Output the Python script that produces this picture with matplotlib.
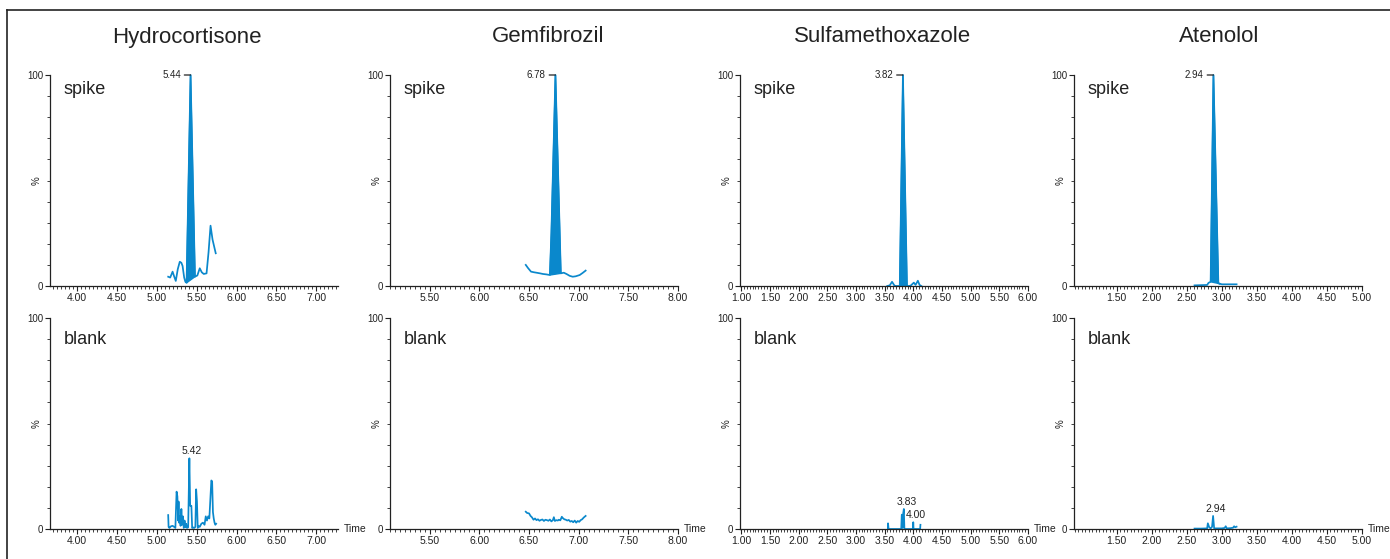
import numpy as np
import matplotlib.pyplot as plt
from matplotlib.lines import Line2D
from matplotlib.ticker import MultipleLocator, FixedLocator

plt.rcParams['font.family'] = ['Liberation Sans', 'DejaVu Sans']

BLUE = '#0a88cc'
INK = '#222222'

compounds = ["Hydrocortisone", "Gemfibrozil", "Sulfamethoxazole", "Atenolol"]
row_names = ["spike", "blank"]

# x axis ranges and labelled ticks
x_ranges = [(3.666, 7.27), (5.10, 8.00), (0.98, 6.00), (0.89, 5.00)]
x_ticks = [
    [4.0, 4.5, 5.0, 5.5, 6.0, 6.5, 7.0],
    [5.5, 6.0, 6.5, 7.0, 7.5, 8.0],
    [1.0, 1.5, 2.0, 2.5, 3.0, 3.5, 4.0, 4.5, 5.0, 5.5, 6.0],
    [1.5, 2.0, 2.5, 3.0, 3.5, 4.0, 4.5, 5.0],
]

# Hydrocortisone
hydro_spike_t = [5.145, 5.17, 5.20, 5.22, 5.24, 5.265, 5.29, 5.31, 5.325, 5.345, 5.36,
                 5.375, 5.425, 5.48, 5.51, 5.54, 5.565, 5.59, 5.625, 5.65, 5.675, 5.70, 5.74]
hydro_spike_v = [4.4, 4.0, 6.8, 4.5, 2.4, 8.0, 11.5, 11.0, 9.5, 4.0, 2.0,
                 1.5, 100, 4.4, 5.0, 8.4, 6.5, 5.7, 6.0, 16.0, 28.6, 22.0, 15.5]
hydro_blank_t = [5.145, 5.15, 5.16, 5.18, 5.20, 5.22, 5.235, 5.25, 5.26, 5.27, 5.275, 5.28,
                 5.29, 5.30, 5.31, 5.32, 5.33, 5.34, 5.35, 5.36, 5.37, 5.38, 5.395, 5.41,
                 5.42, 5.435, 5.445, 5.455, 5.47, 5.485, 5.495, 5.505, 5.515, 5.525, 5.54,
                 5.56, 5.58, 5.60, 5.615, 5.63, 5.645, 5.66, 5.685, 5.695, 5.705, 5.715,
                 5.725, 5.735, 5.745]
hydro_blank_v = [6.6, 1.0, 0.5, 1.3, 1.5, 1.0, 0.5, 17.7, 15.5, 4.0, 13.0, 3.0,
                 6.0, 1.5, 9.5, 2.0, 6.0, 0.5, 4.0, 0.8, 2.5, 0.5, 0.8, 33.5,
                 11.0, 11.0, 0.5, 0.8, 0.5, 1.0, 18.8, 13.0, 0.5, 1.5, 1.0,
                 2.5, 3.0, 2.0, 6.0, 4.0, 6.0, 5.0, 23.0, 22.5, 8.0, 5.0,
                 3.0, 2.0, 2.5]

# Gemfibrozil
gem_spike_t = [6.467, 6.49, 6.52, 6.55, 6.575, 6.61, 6.64, 6.675, 6.71, 6.725, 6.766,
               6.82, 6.85, 6.877, 6.91, 6.94, 6.97, 7.01, 7.04, 7.07]
gem_spike_v = [10.0, 8.5, 6.8, 6.5, 6.3, 6.0, 5.7, 5.5, 5.2, 25.0, 100,
               6.0, 6.3, 5.7, 4.8, 4.4, 4.6, 5.2, 6.2, 7.3]
gem_blank_t = [6.467, 6.48, 6.50, 6.515, 6.53, 6.545, 6.56, 6.575, 6.59, 6.605, 6.62,
               6.635, 6.65, 6.665, 6.68, 6.695, 6.71, 6.725, 6.74, 6.75, 6.76, 6.775,
               6.79, 6.80, 6.815, 6.83, 6.84, 6.855, 6.87, 6.885, 6.90, 6.915, 6.93,
               6.945, 6.96, 6.975, 6.99, 7.005, 7.02, 7.035, 7.05, 7.07]
gem_blank_v = [8.2, 7.6, 7.4, 6.2, 5.5, 4.4, 5.0, 4.2, 4.6, 3.9, 4.3,
               4.5, 3.8, 4.4, 4.2, 3.9, 4.5, 3.6, 4.2, 5.6, 3.8, 4.2,
               4.0, 4.4, 4.1, 5.8, 5.2, 4.6, 4.4, 4.0, 4.3, 3.5, 3.8,
               3.2, 4.0, 3.0, 3.8, 3.4, 4.2, 4.6, 5.4, 6.2]

# Sulfamethoxazole
sulfa_spike_t = [3.547, 3.59, 3.63, 3.67, 3.69, 3.765, 3.82, 3.89, 3.93, 3.96, 4.01,
                 4.04, 4.08, 4.11, 4.14]
sulfa_spike_v = [0.0, 0.3, 2.0, 0.3, 0.0, 0.0, 100, 0.0, 0.0, 0.3, 1.6,
                 0.5, 2.5, 0.5, 0.0]
sulfa_blank_t = [3.56, 3.56, 3.57, 3.79, 3.80, 3.81, 3.815, 3.825, 3.836, 3.845, 3.85,
                 3.995, 4.00, 4.005, 4.12, 4.125]
sulfa_blank_v = [0.0, 2.7, 0.0, 0.0, 6.8, 6.5, 0.5, 7.5, 9.5, 0.5, 0.0,
                 0.0, 3.2, 0.0, 0.0, 2.0]

# Atenolol
aten_spike_t = [2.61, 2.70, 2.79, 2.81, 2.84, 2.88, 2.95, 2.98, 3.00, 3.10, 3.21]
aten_spike_v = [0.3, 0.4, 0.5, 1.5, 2.0, 100, 1.3, 1.0, 0.8, 0.8, 0.8]
aten_blank_t = [2.61, 2.70, 2.79, 2.80, 2.82, 2.84, 2.86, 2.875, 2.89, 2.92, 3.00,
                3.04, 3.055, 3.07, 3.12, 3.16, 3.175, 3.19, 3.21]
aten_blank_v = [0.2, 0.2, 0.3, 2.7, 0.8, 0.3, 1.0, 6.2, 0.3, 0.3, 0.3,
                0.5, 1.3, 0.3, 0.4, 0.6, 1.3, 0.8, 1.1]

spike_traces = [(hydro_spike_t, hydro_spike_v), (gem_spike_t, gem_spike_v),
                (sulfa_spike_t, sulfa_spike_v), (aten_spike_t, aten_spike_v)]
blank_traces = [(hydro_blank_t, hydro_blank_v), (gem_blank_t, gem_blank_v),
                (sulfa_blank_t, sulfa_blank_v), (aten_blank_t, aten_blank_v)]

# solid filled main peak in the spike runs (start, end retention time)
spike_fill = [(5.375, 5.48), (6.71, 6.82), (3.765, 3.89), (2.84, 2.98)]

# peak labels: (label, rt, intensity)
spike_labels = [("5.44", 5.425, 100), ("6.78", 6.766, 100), ("3.82", 3.82, 100), ("2.94", 2.88, 100)]
blank_labels = [[("5.42", 5.41, 33.5)], [], [("3.83", 3.836, 9.5), ("4.00", 4.00, 3.2)],
                [("2.94", 2.875, 6.2)]]

W, H = 1390, 559
fig = plt.figure(figsize=(W / 100, H / 100), dpi=100)

lefts = [50, 390, 740, 1074]
title_x = [187, 548, 883, 1219]
row_bottoms = [559 - 286, 559 - 529]
label_y = [0.91, 0.877]

for i, name in enumerate(compounds):
    fig.text(title_x[i] / W, 1 - 37 / H, name, ha='center', va='center',
             fontsize=16, color=INK)
    for r, row in enumerate(row_names):
        ax = fig.add_axes([lefts[i] / W, row_bottoms[r] / H, 288 / W, 211 / H])
        t, v = (spike_traces if r == 0 else blank_traces)[i]
        t = np.array(t)
        v = np.array(v)
        ax.plot(t, v, color=BLUE, lw=1.25, clip_on=False, solid_joinstyle='round')
        if r == 0:
            # main peak drawn as a solid area
            lo, hi = spike_fill[i]
            m = (t >= lo) & (t <= hi)
            ax.fill(t[m], v[m], color=BLUE, lw=1.0)
            txt, pt, pv = spike_labels[i]
            ax.annotate(txt, xy=(pt, pv), xytext=(-7, 0), textcoords='offset points',
                        ha='right', va='center', fontsize=7, color=INK,
                        arrowprops=dict(arrowstyle='-', color=INK, lw=0.9,
                                        shrinkA=0.5, shrinkB=0))
        else:
            for txt, pt, pv in blank_labels[i]:
                ax.annotate(txt, xy=(pt, pv), xytext=(2, 1.5), textcoords='offset points',
                            ha='center', va='bottom', fontsize=7.5, color=INK)
            ax.annotate('Time', xy=(1, 0), xycoords='axes fraction', xytext=(4, 0),
                        textcoords='offset points', ha='left', va='center',
                        fontsize=7.5, color=INK)

        ax.set_xlim(*x_ranges[i])
        ax.set_ylim(0, 100)
        for s in ['top', 'right']:
            ax.spines[s].set_visible(False)
        for s in ['left', 'bottom']:
            ax.spines[s].set_linewidth(0.9)
            ax.spines[s].set_color(INK)

        ax.xaxis.set_major_locator(FixedLocator(x_ticks[i]))
        ax.set_xticklabels(['%.2f' % x for x in x_ticks[i]])
        ax.xaxis.set_minor_locator(MultipleLocator(0.05))
        ax.set_yticks([0, 100])
        ax.set_yticklabels(['0', '100'])
        ax.yaxis.set_minor_locator(MultipleLocator(10))
        ax.tick_params(axis='both', which='major', direction='out', length=3.5,
                       width=0.8, color=INK, labelsize=7.5, labelcolor=INK, pad=1.5)
        ax.tick_params(axis='y', which='major', labelsize=7)
        ax.tick_params(axis='both', which='minor', direction='out', length=2,
                       width=0.6, color=INK)
        ax.patch.set_alpha(0)

        ax.text(-0.045, 0.5, '%', transform=ax.transAxes, rotation=90,
                ha='center', va='center', fontsize=7, color=INK)
        ax.text(0.047, label_y[r], row, transform=ax.transAxes, fontsize=13,
                va='baseline', ha='left', color=INK)

# frame around the figure (only left and top edges fall inside the image)
fig.add_artist(Line2D([7 / W, 7 / W], [0, 1 - 10 / H], color=INK, lw=1.2))
fig.add_artist(Line2D([7 / W, 1], [1 - 10 / H, 1 - 10 / H], color=INK, lw=1.2))

fig.savefig('out.png', dpi=100)
